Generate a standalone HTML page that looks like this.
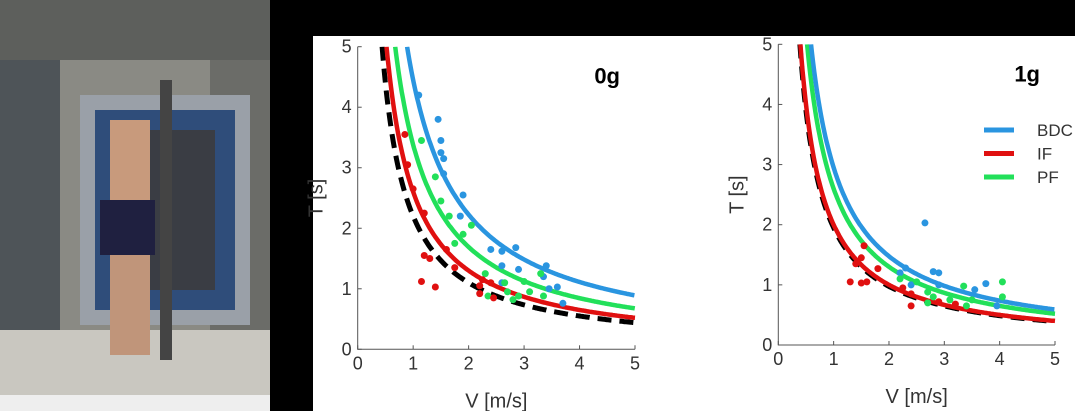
<!DOCTYPE html>
<html><head><meta charset="utf-8"><style>
body{margin:0;background:#000;width:1075px;height:411px;overflow:hidden;position:relative;font-family:"Liberation Sans",sans-serif}
#photo{position:absolute;left:0;top:0;width:270px;height:411px}
#panel{position:absolute;left:0;top:0}
</style></head><body>
<svg id="photo" viewBox="0 0 270 411">
<rect width="270" height="411" fill="#8a8a84"/>
<rect x="0" y="0" width="270" height="60" fill="#5d5f5c"/>
<rect x="0" y="60" width="60" height="300" fill="#4e5458"/>
<rect x="210" y="60" width="60" height="300" fill="#6b6c68"/>
<rect x="80" y="95" width="170" height="230" fill="#9aa0a8"/>
<rect x="95" y="110" width="140" height="200" fill="#2f4d7a"/>
<rect x="115" y="130" width="100" height="160" fill="#3a3d44"/>
<rect x="0" y="330" width="270" height="81" fill="#c9c7c0"/>
<rect x="110" y="120" width="40" height="110" fill="#c89a7c"/>
<rect x="100" y="200" width="55" height="55" fill="#1f2040"/>
<rect x="110" y="255" width="40" height="100" fill="#c0957a"/>
<rect x="160" y="80" width="12" height="280" fill="#444"/>
<rect x="0" y="395" width="270" height="16" fill="#eee"/>
</svg>
<svg id="panel" width="1075" height="411">
<rect x="313" y="36" width="762" height="375" fill="#fff"/>
<g id="c1"></g><g id="c2"></g>
</svg>
<script>
const ticks=[0,1,2,3,4,5];
const fits0g=[4.45,3.38,2.6,2.2];
const fits1g=[2.95,2.6,2.0,1.95];
const names=['BDC','PF','IF','Model'];
const colors=['#2a95e0','#22e05a','#e01010','#000'];
const blue0V=[1.1,1.45,1.5,1.5,1.55,1.55,1.9,1.85,2.4,2.6,2.85,2.6,2.9,2.6,3.4,3.35,3.6,3.45,3.7];
const blue0T=[4.2,3.8,3.45,3.25,3.15,2.9,2.55,2.2,1.65,1.62,1.68,1.38,1.32,1.1,1.38,1.2,1.03,1.0,0.76];
const green0V=[1.15,1.4,1.5,1.65,1.75,1.9,2.05,2.3,2.65,2.7,3.0,2.9,3.3,3.1,2.35,3.35,2.8];
const green0T=[3.45,2.85,2.45,2.2,1.75,1.9,2.05,1.25,1.1,0.95,1.12,0.88,1.25,0.95,0.88,0.88,0.82];
const red0V=[0.85,0.9,1.0,1.2,1.2,1.3,1.15,1.4,1.6,1.75,2.25,2.2,2.4,2.45,2.2];
const red0T=[3.55,3.05,2.65,2.25,1.55,1.5,1.12,1.03,1.65,1.35,1.15,1.05,1.1,0.85,0.92];
const blue1V=[2.65,2.3,2.4,2.8,2.9,2.9,3.55,3.75,3.95,2.2];
const blue1T=[2.03,1.28,1.0,1.22,1.2,1.0,0.92,1.02,0.65,1.2];
const green1V=[2.2,2.5,2.7,2.8,3.35,3.5,4.05,4.05,3.4,3.1,2.7];
const green1T=[1.1,1.05,0.88,0.8,0.98,0.75,1.05,0.8,0.65,0.75,0.7];
const red1V=[1.3,1.5,1.6,1.4,1.5,1.8,2.25,2.4,2.4,2.9,3.2,1.55];
const red1T=[1.05,1.03,1.05,1.35,1.45,1.27,0.95,0.85,0.65,0.72,0.68,1.65];
const NS='http://www.w3.org/2000/svg';
function mk(p,t,a){const e=document.createElementNS(NS,t);for(const k in a)e.setAttribute(k,a[k]);p.appendChild(e);return e;}
function chart(g,x0,x1,y0,y1,fits,pts,label,legend){
 const X=v=>x0+(x1-x0)*v/5, Y=v=>y0-(y0-y1)*v/5;
 const ax=mk(g,'path',{d:`M${x0} ${y1}V${y0}H${x1}`,stroke:'#555',fill:'none','stroke-width':1});
 
 ticks.forEach(t=>{
  mk(g,'line',{x1:X(t),x2:X(t),y1:y0,y2:y0-4,stroke:'#555'});
  mk(g,'line',{x1:x0,x2:x0+4,y1:Y(t),y2:Y(t),stroke:'#555'});
  const tx=mk(g,'text',{x:X(t),y:y0+20,'font-size':18,'text-anchor':'middle',fill:'#333'});tx.textContent=t;
  
  const ty=mk(g,'text',{x:x0-6,y:Y(t)+6,'font-size':18,'text-anchor':'end',fill:'#333'});ty.textContent=t;
  
 });
 const xt=mk(g,'text',{x:(x0+x1)/2,y:y0+58,'font-size':20,'text-anchor':'middle',fill:'#333'});xt.textContent='V [m/s]';
 
 const yt=mk(g,'text',{x:0,y:0,'font-size':20,'text-anchor':'middle',fill:'#333',transform:`translate(${x0-35},${(y0+y1)/2}) rotate(-90)`});yt.textContent='T [s]';
 
 const cp=mk(g,'clipPath',{id:'cl'+x0});mk(cp,'rect',{x:x0,y:y1,width:x1-x0+2,height:y0-y1});
 [3,2,1,0].forEach(i=>{
  let d='';for(let v=fits[i]/5;v<=5.0001;v+=0.02){d+=(d?'L':'M')+X(v).toFixed(1)+' '+Y(fits[i]/v).toFixed(1);}
  const p=mk(g,'path',{d,stroke:colors[i],fill:'none','stroke-width':i==3?5:4.5,'clip-path':`url(#cl${x0})`});
  if(i==3)p.setAttribute('stroke-dasharray','14 8');
  
 });
 pts.forEach(([vs,ts,c,n])=>vs.forEach((v,k)=>{const e=mk(g,'circle',{cx:X(v),cy:Y(ts[k]),r:3.5,fill:c});
  }));
 const lb=mk(g,'text',{x:x1-15,y:y1+37,'font-size':22,'font-weight':'bold','text-anchor':'end',fill:'#000'});lb.textContent=label;
 
 if(legend){[['BDC',colors[0]],['IF',colors[2]],['PF',colors[1]]].forEach(([n,c],i)=>{
  const y=130+i*23.5;const l=mk(g,'line',{x1:984,x2:1014,y1:y,y2:y,stroke:c,'stroke-width':5});
  
  const t=mk(g,'text',{x:1037,y:y+6,'font-size':17,fill:'#333'});t.textContent=n;
  });}
}
chart(document.getElementById('c1'),357.7,635,349.3,46.7,fits0g,
 [[blue0V,blue0T,colors[0],'bdc'],[green0V,green0T,colors[1],'pf'],[red0V,red0T,colors[2],'if']],'0g',false);
chart(document.getElementById('c2'),778.3,1055,345,44.3,fits1g,
 [[blue1V,blue1T,colors[0],'bdc'],[green1V,green1T,colors[1],'pf'],[red1V,red1T,colors[2],'if']],'1g',true);
</script>
</body></html>
